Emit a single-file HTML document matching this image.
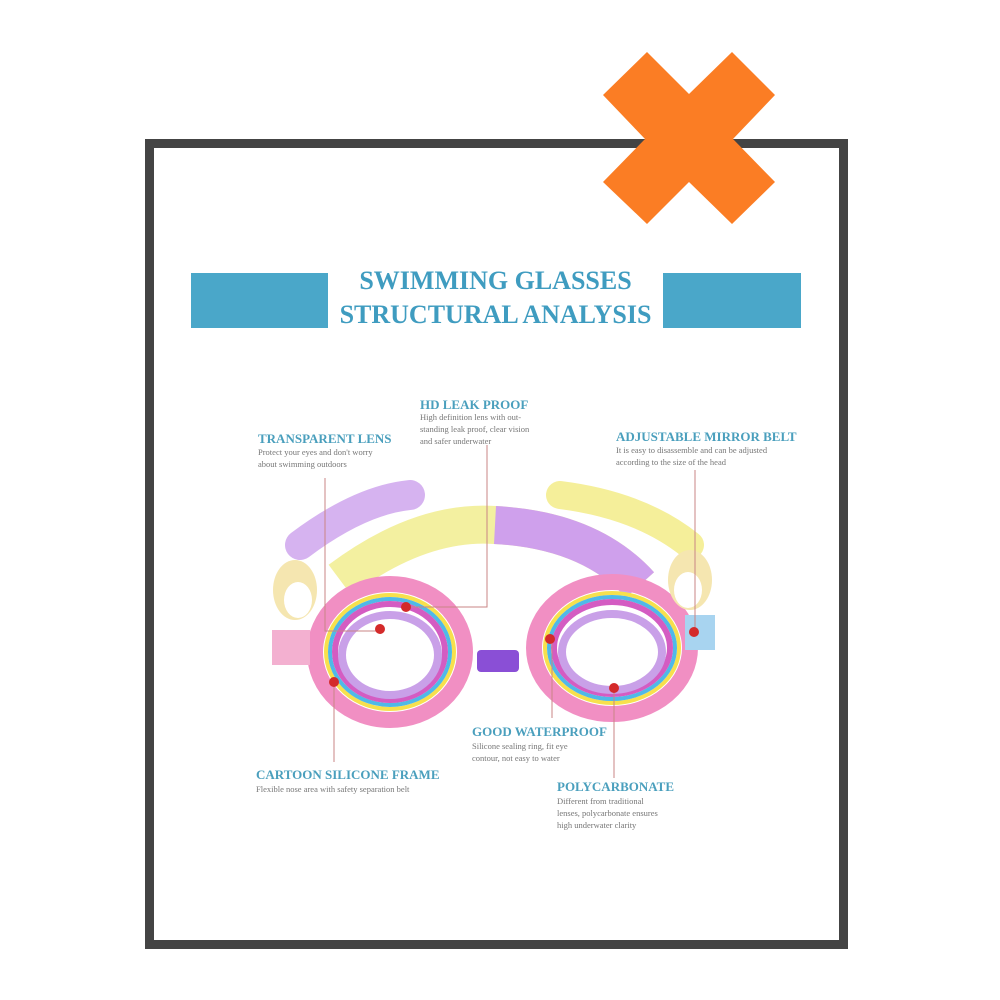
<!DOCTYPE html>
<html><head><style>
body{margin:0;width:1000px;height:1000px;background:#fff;position:relative;overflow:hidden;font-family:"Liberation Serif",serif}
.t{position:absolute;color:#4a9fbd;font-weight:bold;font-size:13px;white-space:nowrap}
.d{position:absolute;color:#777;font-size:8.5px;line-height:12px}
</style></head><body>
<div style="position:absolute;left:145px;top:139px;width:685px;height:792px;border:9px solid #444"></div>
<div style="position:absolute;left:191px;top:273px;width:137px;height:55px;background:#4aa7c9"></div>
<div style="position:absolute;left:663px;top:273px;width:138px;height:55px;background:#4aa7c9"></div>
<div style="position:absolute;left:328px;top:264px;width:335px;text-align:center;color:#3f9cc0;font-weight:bold;font-size:26px;line-height:34px">SWIMMING GLASSES<br>STRUCTURAL ANALYSIS</div>
<svg style="position:absolute;left:0;top:0" width="1000" height="1000">
<path d="M300 545 Q360 500 410 495" stroke="#d6b3f0" stroke-width="30" fill="none" stroke-linecap="round"/>
<path d="M560 495 Q640 505 690 545" stroke="#f5ef9a" stroke-width="28" fill="none" stroke-linecap="round"/>
<path d="M340 580 Q420 520 495 525 Q590 530 640 585" stroke="#f3f0a0" stroke-width="38" fill="none"/>
<path d="M495 525 Q590 530 640 585" stroke="#cfa0ec" stroke-width="38" fill="none"/>
<g fill="none">
<ellipse cx="390" cy="652" rx="75" ry="68" stroke="#f18fc3" stroke-width="16"/>
<ellipse cx="390" cy="652" rx="64" ry="57" stroke="#f7e04d" stroke-width="4"/>
<ellipse cx="390" cy="652" rx="60" ry="53" stroke="#4fb9e8" stroke-width="4"/>
<ellipse cx="390" cy="652" rx="55" ry="48" stroke="#d45cc2" stroke-width="6"/>
<ellipse cx="390" cy="655" rx="48" ry="40" stroke="#c9a0e8" stroke-width="8"/>
<ellipse cx="612" cy="648" rx="78" ry="66" stroke="#f18fc3" stroke-width="16"/>
<ellipse cx="612" cy="648" rx="67" ry="55" stroke="#f7e04d" stroke-width="4"/>
<ellipse cx="612" cy="648" rx="63" ry="51" stroke="#4fb9e8" stroke-width="4"/>
<ellipse cx="612" cy="648" rx="58" ry="46" stroke="#d45cc2" stroke-width="6"/>
<ellipse cx="612" cy="652" rx="50" ry="38" stroke="#c9a0e8" stroke-width="8"/>
</g>
<rect x="477" y="650" width="42" height="22" rx="4" fill="#8a4fd6"/>
<rect x="272" y="630" width="38" height="35" fill="#f3b0d0"/>
<rect x="685" y="615" width="30" height="35" fill="#a8d4f0"/>
<ellipse cx="295" cy="590" rx="22" ry="30" fill="#f5e6b0"/>
<ellipse cx="298" cy="600" rx="14" ry="18" fill="#fff"/>
<ellipse cx="690" cy="580" rx="22" ry="30" fill="#f5e6b0"/>
<ellipse cx="688" cy="590" rx="14" ry="18" fill="#fff"/>
<g stroke="#c98585" stroke-width="1" fill="none">
<path d="M325 478V631H380"/><path d="M487 445V607H406"/><path d="M695 470V632"/>
<path d="M334 682V762"/><path d="M552 639V718"/><path d="M614 688V778"/>
</g>
<g fill="#d42a2a">
<circle cx="406" cy="607" r="5"/><circle cx="380" cy="629" r="5"/><circle cx="334" cy="682" r="5"/>
<circle cx="550" cy="639" r="5"/><circle cx="614" cy="688" r="5"/><circle cx="694" cy="632" r="5"/>
</g>
<polygon fill="#fb7d24" points="647,52 689,94 732,52 775,95 733,139 775,182 732,224 689,182 647,224 603,182 645,139 603,95"/>
</svg>
<div class="t" style="left:420px;top:397px">HD LEAK PROOF</div>
<div class="d" style="left:420px;top:411px">High definition lens with out-<br>standing leak proof, clear vision<br>and safer underwater</div>
<div class="t" style="left:258px;top:431px">TRANSPARENT LENS</div>
<div class="d" style="left:258px;top:446px">Protect your eyes and don't worry<br>about swimming outdoors</div>
<div class="t" style="left:616px;top:429px">ADJUSTABLE MIRROR BELT</div>
<div class="d" style="left:616px;top:444px">It is easy to disassemble and can be adjusted<br>according to the size of the head</div>
<div class="t" style="left:472px;top:724px">GOOD WATERPROOF</div>
<div class="d" style="left:472px;top:740px">Silicone sealing ring, fit eye<br>contour, not easy to water</div>
<div class="t" style="left:256px;top:767px">CARTOON SILICONE FRAME</div>
<div class="d" style="left:256px;top:783px">Flexible nose area with safety separation belt</div>
<div class="t" style="left:557px;top:779px">POLYCARBONATE</div>
<div class="d" style="left:557px;top:795px">Different from traditional<br>lenses, polycarbonate ensures<br>high underwater clarity</div>
</body></html>
